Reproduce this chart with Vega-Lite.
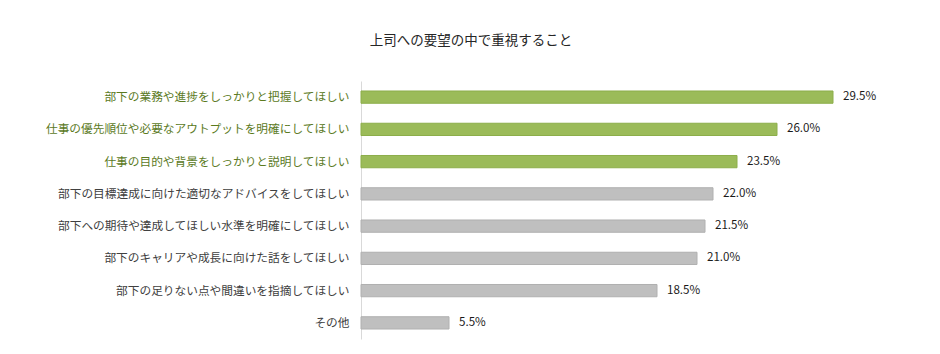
{
  "$schema": "https://vega.github.io/schema/vega-lite/v6.json",
  "autosize": "none",
  "padding": {"left": 361, "top": 81, "right": 39, "bottom": 15},
  "width": 540,
  "height": 258,
  "background": "white",
  "title": {
    "text": "上司への要望の中で重視すること",
    "font": "Noto Sans CJK JP",
    "fontSize": 13.5,
    "fontWeight": "normal",
    "color": "#262626",
    "anchor": "middle",
    "dx": -160,
    "offset": 34
  },
  "config": {
    "view": {"stroke": null},
    "font": "Noto Sans CJK JP"
  },
  "data": {
    "values": [
      {"item": "部下の業務や進捗をしっかりと把握してほしい", "value": 0.295},
      {"item": "仕事の優先順位や必要なアウトプットを明確にしてほしい", "value": 0.26},
      {"item": "仕事の目的や背景をしっかりと説明してほしい", "value": 0.235},
      {"item": "部下の目標達成に向けた適切なアドバイスをしてほしい", "value": 0.22},
      {"item": "部下への期待や達成してほしい水準を明確にしてほしい", "value": 0.215},
      {"item": "部下のキャリアや成長に向けた話をしてほしい", "value": 0.21},
      {"item": "部下の足りない点や間違いを指摘してほしい", "value": 0.185},
      {"item": "その他", "value": 0.055}
    ]
  },
  "encoding": {
    "y": {
      "field": "item",
      "type": "nominal",
      "sort": null,
      "scale": {"paddingInner": 0.62, "paddingOuter": 0.31},
      "axis": {
        "title": null,
        "ticks": false,
        "domain": true,
        "domainColor": "#d9d9d9",
        "domainWidth": 1,
        "labelFont": "Noto Sans CJK JP",
        "labelFontSize": 11.7,
        "labelPadding": 12,
        "labelLimit": 400,
        "labelColor": {
          "condition": {
            "test": "indexof(['部下の業務や進捗をしっかりと把握してほしい','仕事の優先順位や必要なアウトプットを明確にしてほしい','仕事の目的や背景をしっかりと説明してほしい'], datum.value) >= 0",
            "value": "#5B7A1E"
          },
          "value": "#404040"
        }
      }
    },
    "x": {
      "field": "value",
      "type": "quantitative",
      "scale": {"domain": [0, 0.3375], "nice": false, "zero": true},
      "axis": null
    }
  },
  "layer": [
    {
      "mark": {"type": "bar", "strokeWidth": 1},
      "encoding": {
        "color": {
          "condition": {"test": "datum.value >= 0.235", "value": "#9BBB59"},
          "value": "#BFBFBF"
        },
        "stroke": {
          "condition": {"test": "datum.value >= 0.235", "value": "#8CAE4A"},
          "value": "#B0B0B0"
        }
      }
    },
    {
      "mark": {
        "type": "text",
        "align": "left",
        "baseline": "middle",
        "dx": 10,
        "font": "Noto Sans CJK JP",
        "fontSize": 11.6,
        "color": "#1a1a1a"
      },
      "encoding": {
        "text": {"field": "value", "type": "quantitative", "format": ".1%"}
      }
    }
  ]
}
